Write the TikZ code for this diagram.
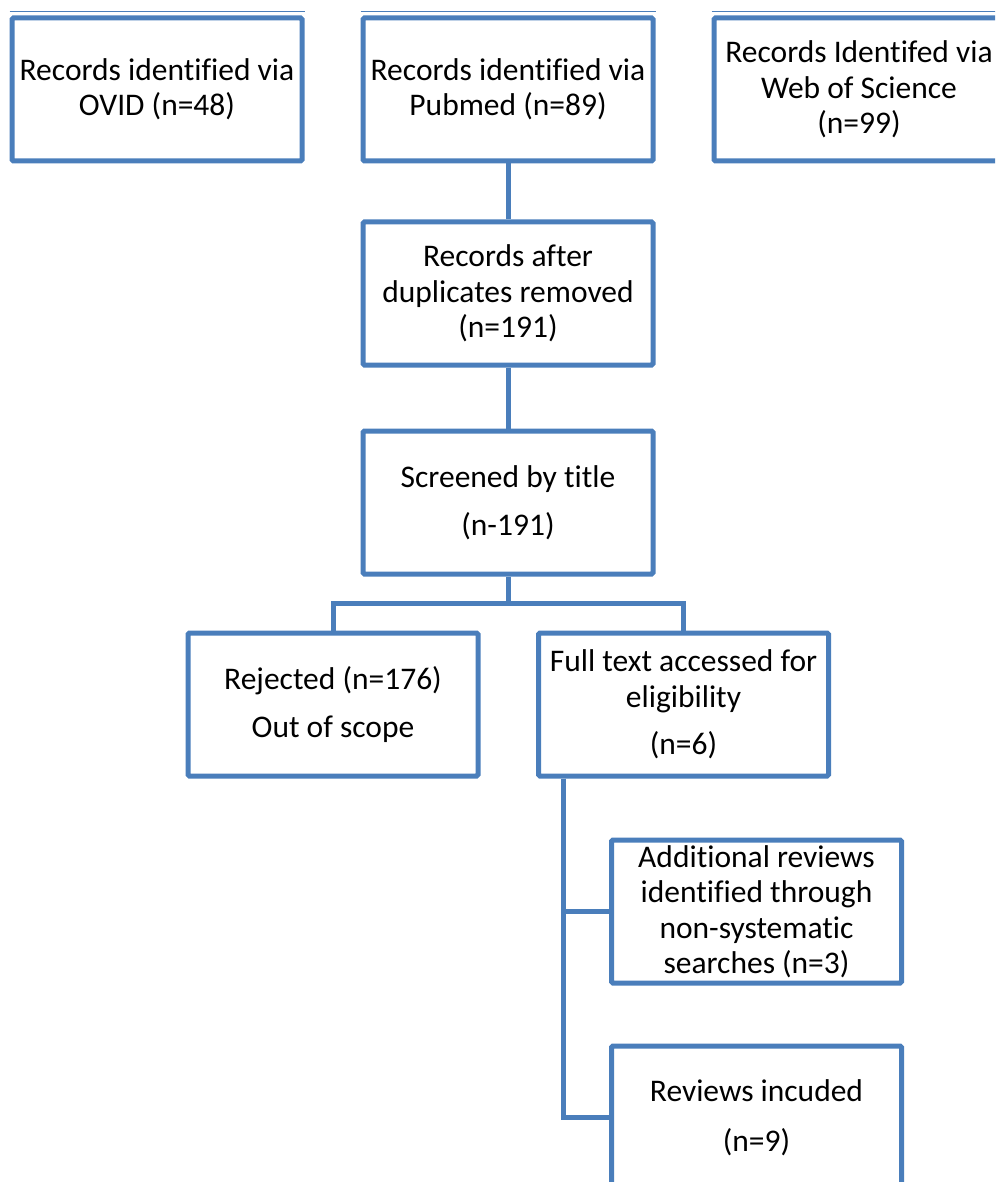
\documentclass[tikz,border=0pt]{standalone}
\usepackage{fontspec}
\setmainfont{Carlito}[Ligatures=NoCommon]
\usetikzlibrary{calc}
\definecolor{boxblue}{RGB}{74,126,187}

\begin{document}
\begin{tikzpicture}[x=1pt,y=-1pt,
                    stage/.style={draw=boxblue,line width=5pt,rounded corners=1.5pt,minimum width=290pt,minimum height=143pt,align=center,inner sep=2pt,font=\fontsize{31.5}{35.5}\selectfont},
                    link/.style={boxblue,line width=5pt},
                    topline/.style={boxblue,line width=1.2pt}]
      \useasboundingbox (0,0) rectangle (995,1182);
      \clip (0,0) rectangle (995,1182);

      % sources
      \node[stage] (ovid) at (157,89.5) {Records identified via\\OVID (n=48)};
      \node[stage] (pubmed) at (508,89.5) {Records identified via\\Pubmed (n=89)};
      \node[stage] (wos) at (859,89.5) {Records Identifed via\\Web of Science\\(n=99)};
      \foreach \src in {ovid,pubmed,wos} {
        \draw[topline] ([yshift=4pt]\src.north west) -- ([yshift=4pt]\src.north east);
      }

      % screening
      \node[stage] (dedup) at (508,293.5) {Records after\\duplicates removed\\(n=191)};
      \node[stage] (title) at (508,502.5) {Screened by title\\[12pt](n-191)};
      \node[stage] (reject) at (333,704.5) {Rejected (n=176)\\[12pt]Out of scope};
      \node[stage] (fulltext) at (683.5,704.5) {Full text accessed for\\eligibility\\[12pt](n=6)};
      \node[stage] (extra) at (756.5,911.5) {Additional reviews\\identified through\\non-systematic\\searches (n=3)};
      \node[stage] (included) at (756.5,1117.5) {Reviews incuded\\[14pt](n=9)};

      \coordinate (split) at (508,603.5);
      \coordinate (spine) at ([xshift=27pt]fulltext.south west);

      \draw[link] (pubmed.south) -- (dedup.north);
      \draw[link] (dedup.south) -- (title.north);
      \draw[link] (title.south) -- (split);
      \draw[link] (split) -| (reject.north);
      \draw[link] (split) -| (fulltext.north);
      \draw[link] (spine) |- (extra.west);
      \draw[link] (spine) |- (included.west);
\end{tikzpicture}
\end{document}
